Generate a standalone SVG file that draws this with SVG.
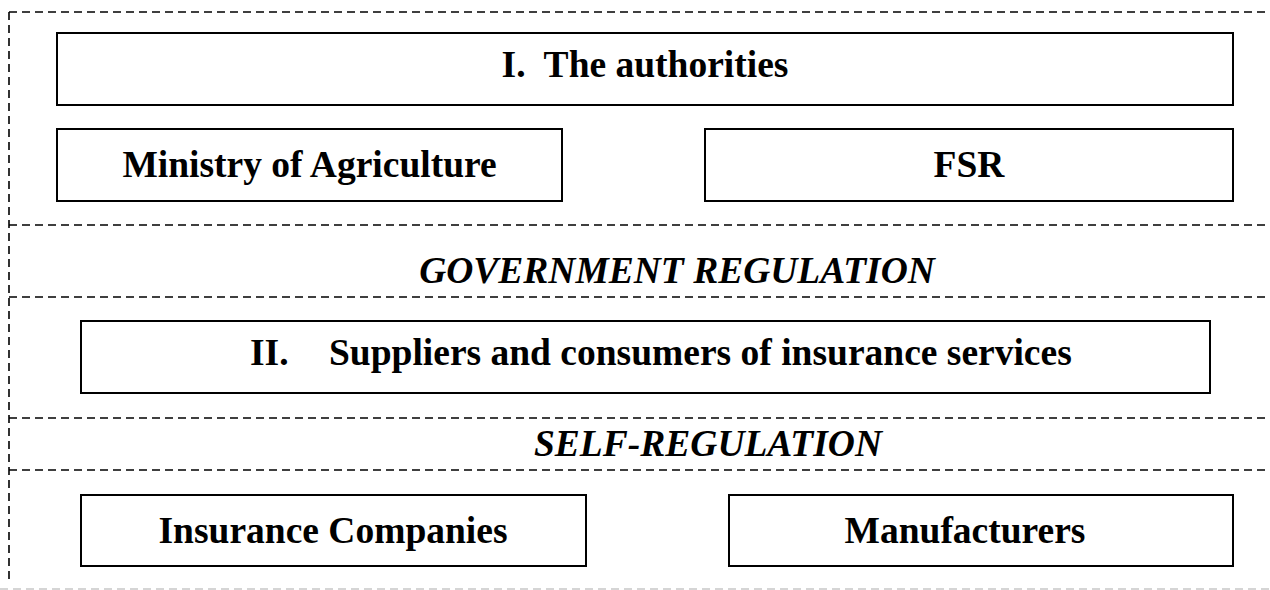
<svg xmlns="http://www.w3.org/2000/svg" width="1270" height="590" viewBox="0 0 1270 590">
<style>
.box{fill:#fff;stroke:#000;stroke-width:2}
.dash{fill:none;stroke:#000;stroke-width:1.6;stroke-dasharray:8 5}
.t{font-family:"Liberation Serif","Times New Roman",serif;font-weight:bold;font-size:37.5px;fill:#000}
.c{text-anchor:middle}
.i{font-style:italic}
</style>
<rect width="1270" height="590" fill="#fff"/>
<g id="frame">
<path class="dash" d="M9 12H1270M9 12V582M9 225H1270M9 297H1270M9 418H1270M9 470H1270"/>
<path class="dash" d="M0 589H1270" style="stroke:#c8c8c8"/>
</g>
<g id="authorities"><rect class="box" x="57" y="33" width="1176" height="72"/><text class="t c" x="645" y="77" xml:space="preserve">I.  The authorities</text></g>
<g id="ministry"><rect class="box" x="57" y="129" width="505" height="72"/><text class="t c" x="309.5" y="177">Ministry of Agriculture</text></g>
<g id="fsr"><rect class="box" x="705" y="129" width="528" height="72"/><text class="t c" x="969" y="177">FSR</text></g>
<g id="gov"><text class="t c i" x="677" y="283">GOVERNMENT REGULATION</text></g>
<g id="suppliers"><rect class="box" x="81" y="321" width="1129" height="72"/><text class="t" x="250" y="365">II.</text><text class="t" x="329" y="365">Suppliers and consumers of insurance services</text></g>
<g id="self"><text class="t c i" x="708" y="456">SELF-REGULATION</text></g>
<g id="insurance"><rect class="box" x="81" y="495" width="505" height="71"/><text class="t c" x="333" y="543">Insurance Companies</text></g>
<g id="manufacturers"><rect class="box" x="729" y="495" width="504" height="71"/><text class="t c" x="965" y="543">Manufacturers</text></g>
<g id="connectors"></g>
</svg>
